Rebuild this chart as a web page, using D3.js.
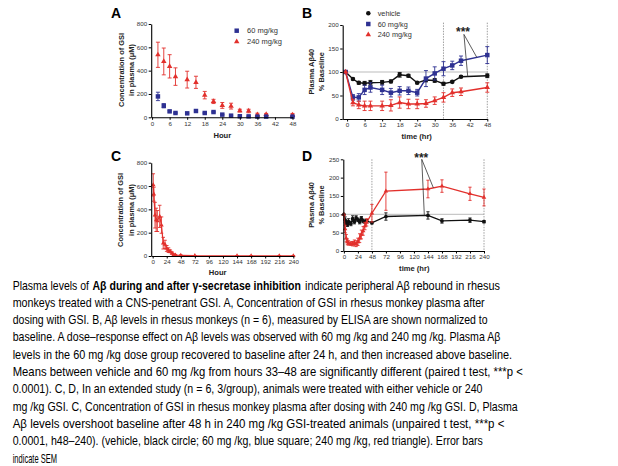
<!DOCTYPE html>
<html><head><meta charset="utf-8">
<script src="https://cdn.jsdelivr.net/npm/d3@7"></script>
<style>
body{margin:0;background:#fff}
svg{display:block}
text{font-family:'Liberation Sans',Arial,Helvetica,sans-serif}
</style>
</head><body>
<svg id="c" width="618" height="466"></svg>
<script>
// ---------- DATA ----------
// Panel A: GSI concentration (µM), 0-48 h
const hoursA = [2,4,6,8,12,15,18,21,24,27,30,33,36,39,48];
const a60    = [179,99,51,37,34,54,37,45,23,14,9,8,6,6,6];
const a60Err = [36,18,6,5,4,5,4,5,3,3,3,3,2,2,2];
const a240   = [536,479,437,349,323,300,190,136,102,96,57,54,23,25,20];
const a240Err= [108,115,100,75,72,52,32,18,25,25,12,15,12,8,13];
const ticksA_x = [0,6,12,18,24,30,36,42,48];
const ticksA_y = [0,200,400,600,800];

// Panel B: Plasma Aβ40 % baseline, 0-48 h
const hoursB  = [-0.5,2,4,6,8,12,15,18,21,24,27,30,33,36,39,48];
const bVeh    = [100,85,77,76,77,78,80,94,92,77,83,82,75,79,90,92];
const bVehErr = [0,2,3,4,5,4,3,5,3,2,4,4,3,2,2,4];
const b60     = [100,46,46,62,67,62,56,60,60,56,86,97,107,114,124,136];
const b60Err  = [0,6,8,10,10,10,9,9,8,7,17,14,15,9,10,18];
const b240    = [100,35,30,28,28,28,29,35,32,32,33,39,46,56,58,67];
const b240Err = [0,7,8,10,10,10,12,12,10,10,8,8,10,8,8,10];
const ticksB_x = [0,6,12,18,24,30,36,42,48];
const ticksB_y = [0,50,100,150,200];

// Panel C: GSI concentration (µM), 0-240 h, 240 mg/kg
const hoursC = [1,2,4,6,8,12,15,18,21,24,27,30,33,36,39,48,72,144,168,216,240];
const cVals  = [610,530,350,310,300,340,265,110,100,65,50,40,25,12,8,6,3,2,2,2,2];
const cErr   = [95,60,110,100,90,95,70,50,35,25,20,12,10,6,4,3,1,1,1,1,1];
const ticksCD_x = [0,24,48,72,96,120,144,168,192,216,240];
const ticksC_y = [0,200,400,600,800];

// Panel D: Plasma Aβ40 % baseline, 0-240 h
const hoursD  = [0,2,4,6,8,12,15,18,21,24,27,30,33,36,39,48,72,144,168,216,240];
const dVeh    = [100,85,78,72,80,75,88,80,90,85,80,88,82,80,82,77,94,97,82,84,80];
const dVehErr = [0,8,6,5,8,6,8,6,6,5,6,6,5,4,4,3,10,10,6,6,3];
const d240    = [100,60,35,25,22,20,20,22,20,25,35,45,55,68,78,103,163,169,177,156,146];
const d240Err = [0,10,10,8,6,5,6,8,8,10,12,12,12,10,10,24,52,24,17,18,23];
const ticksD_y = [0,50,100,150,200,250];

const legendA = ["60 mg/kg","240 mg/kg"];
const legendB = ["vehicle","60 mg/kg","240 mg/kg"];

// caption pieces: [text, bold, left x, right x]
const caption = [
  [["Plasma levels of",0,12.7,89],["Aβ during and after γ-secretase inhibition",1,92.5,301],["indicate peripheral Aβ rebound in rhesus",0,305,500]],
  [["monkeys treated with a CNS-penetrant GSI. A, Concentration of GSI in rhesus monkey plasma after",0,12.7,485]],
  [["dosing with GSI. B, Aβ levels in rhesus monkeys (n = 6), measured by ELISA are shown normalized to",0,12.7,488]],
  [["baseline. A dose–response effect on Aβ levels was observed with 60 mg /kg and 240 mg /kg. Plasma Aβ",0,12.7,501]],
  [["levels in the 60 mg /kg dose group recovered to baseline after 24 h, and then increased above baseline.",0,12.7,512]],
  [["Means between vehicle and 60 mg /kg from hours 33–48 are significantly different (paired t test, ***p <",0,12.7,523]],
  [["0.0001). C, D, In an extended study (n = 6, 3/group),  animals were treated with either vehicle or 240",0,12.7,483]],
  [["mg /kg GSI. C, Concentration of GSI in rhesus monkey plasma after dosing with 240 mg /kg GSI. D, Plasma",0,12.7,518]],
  [["Aβ levels overshoot baseline after 48 h in 240 mg /kg GSI-treated animals (unpaired t test, ***p <",0,12.7,505]],
  [["0.0001, h48–240).  (vehicle,  black circle; 60 mg /kg, blue square; 240 mg /kg, red triangle). Error bars",0,12.7,483]],
  [["indicate SEM",0,12.7,57]]
];

// ---------- DRAW ----------
const svg = d3.select('#c');
const BLUE = '#2e3192', RED = '#e2302c', BLACK = '#111';
const sym = {
  circle: d3.symbol().type(d3.symbolCircle).size(16),
  square: d3.symbol().type(d3.symbolSquare).size(20),
  tri: d3.symbol().type(d3.symbolTriangle).size(13),
  circleS: d3.symbol().type(d3.symbolCircle).size(11),
  triS: d3.symbol().type(d3.symbolTriangle).size(9)
};

function makePanel(o){
  const g = svg.append('g');
  const x = d3.scaleLinear().domain(o.xd).range(o.xr);
  const y = d3.scaleLinear().domain(o.yd).range(o.yr);
  return {g,x,y,o};
}
function axes(p, xt, yt, xlabel, ylabels, letter){
  const {g,x,y,o} = p;
  const xa = g.append('g').attr('transform',`translate(0,${o.yr[0]})`)
    .call(d3.axisBottom(x).tickValues(xt).tickSize(2.5).tickSizeOuter(0).tickPadding(1.5));
  const ya = g.append('g').attr('transform',`translate(${o.xr[0]},0)`)
    .call(d3.axisLeft(y).tickValues(yt).tickSize(2.5).tickSizeOuter(0).tickPadding(1.5));
  [xa,ya].forEach(a=>{
    a.select('.domain').attr('stroke','#000').attr('stroke-width',1.1);
    a.selectAll('.tick line').attr('stroke','#000').attr('stroke-width',1);
    a.selectAll('.tick text').attr('font-size',6.2).attr('fill','#333').attr('font-family',"'Liberation Sans',Arial,sans-serif");
  });
  g.append('text').attr('x',o.xlab[0]).attr('y',o.xlab[1]).attr('text-anchor','middle')
    .attr('dy','0.35em').attr('font-size',7.6).attr('font-weight','bold').attr('fill','#222').text(xlabel);
  ylabels.forEach((t,i)=>{
    g.append('text').attr('transform',`translate(${o.ylab[i]},${o.ylabY}) rotate(-90)`)
      .attr('text-anchor','middle').attr('dy','0.35em').attr('font-size',7.4).attr('font-weight','bold')
      .attr('fill','#222').text(t);
  });
  g.append('text').attr('x',o.letter[0]).attr('y',o.letter[1]).attr('font-size',14)
    .attr('font-weight','bold').attr('fill','#000').text(letter);
}
function series(p, xs, ys, es, color, shape, line, cap, lw){
  const {g,x,y} = p;
  const pts = xs.map((h,i)=>({h, v:ys[i], e:es[i]}));
  if(line){
    g.append('path').datum(pts).attr('fill','none').attr('stroke',color).attr('stroke-width',lw||1.4)
      .attr('d', d3.line().x(d=>x(d.h)).y(d=>y(d.v)));
  }
  const eb = g.append('g').attr('stroke',color).attr('stroke-width',0.9);
  pts.filter(d=>d.e>0).forEach(d=>{
    const cx = x(d.h);
    eb.append('line').attr('x1',cx).attr('x2',cx).attr('y1',y(Math.max(0,d.v-d.e))).attr('y2',y(d.v+d.e));
    eb.append('line').attr('x1',cx-cap).attr('x2',cx+cap).attr('y1',y(d.v+d.e)).attr('y2',y(d.v+d.e));
    if(d.v-d.e>0) eb.append('line').attr('x1',cx-cap).attr('x2',cx+cap).attr('y1',y(d.v-d.e)).attr('y2',y(d.v-d.e));
  });
  g.append('g').selectAll('path').data(pts).join('path')
    .attr('transform',d=>`translate(${x(d.h)},${y(d.v)})`).attr('d',sym[shape]).attr('fill',color);
}
function refLines(p, hVal, vHours, top){
  const {g,x,y,o} = p;
  g.append('line').attr('x1',o.xr[0]).attr('x2',o.xr[1]).attr('y1',y(hVal)).attr('y2',y(hVal))
    .attr('stroke','#aaa').attr('stroke-width',0.8);
  vHours.forEach(h=>{
    g.append('line').attr('x1',x(h)).attr('x2',x(h)).attr('y1',y(top)).attr('y2',o.yr[0])
      .attr('stroke','#888').attr('stroke-width',0.8).attr('stroke-dasharray','1.5,1.2');
  });
}
function stars(p, tx, ty, apex, targets){
  const {g,x,y} = p;
  g.append('text').attr('x',x(tx)).attr('y',y(ty)).attr('text-anchor','middle').attr('font-size',12)
    .attr('font-weight','bold').attr('fill','#222').text('***');
  targets.forEach(t=>{
    const interp = d3.scaleLinear().domain(t.xs).range(t.ys);
    g.append('line').attr('x1',x(apex[0])).attr('y1',y(apex[1]))
      .attr('x2',x(t.h)).attr('y2',y(interp(t.h))).attr('stroke','#333').attr('stroke-width',0.8);
  });
}

// Panel A
const pA = makePanel({xd:[-0.3,48], xr:[151.2,292.5], yd:[0,800], yr:[117.3,24],
  xlab:[222.3,135.7], ylab:[121.7,131.7], ylabY:70, letter:[111,18]});
series(pA, hoursA, a240, a240Err, RED, 'tri', false, 2);
series(pA, hoursA, a60, a60Err, BLUE, 'square', false, 2);
axes(pA, ticksA_x, ticksA_y, 'Hour', ['Concentration of GSI','in plasma (μM)'], 'A');
[['square',BLUE],['tri',RED]].forEach((s,i)=>{
  pA.g.append('path').attr('transform',`translate(236.7,${30.7+i*11})`).attr('d',sym[s[0]]).attr('fill',s[1]);
  pA.g.append('text').attr('x',247).attr('y',30.7+i*11).attr('dy','0.35em').attr('font-size',7.5)
    .attr('fill','#333').text(legendA[i]);
});

// Panel B
const pB = makePanel({xd:[-1.5,48], xr:[342.7,487.3], yd:[0,200], yr:[119,25],
  xlab:[416.7,136.7], ylab:[311.7,321.7], ylabY:71.7, letter:[302,18]});
refLines(pB, 100, [33,48], 205);
series(pB, hoursB, bVeh, bVehErr, BLACK, 'circle', true, 2);
series(pB, hoursB, b60, b60Err, BLUE, 'square', true, 2);
series(pB, hoursB, b240, b240Err, RED, 'tri', true, 2);
axes(pB, ticksB_x, ticksB_y, 'time (hr)', ['Plasma Aβ40','% Baseline'], 'B');
stars(pB, 39.7, 176, [40,180], [{h:44.4,xs:hoursB,ys:b60},{h:41.3,xs:hoursB,ys:bVeh}]);
[['circle',BLACK],['square',BLUE],['tri',RED]].forEach((s,i)=>{
  pB.g.append('path').attr('transform',`translate(368.3,${13.3+i*10.7})`).attr('d',sym[s[0]]).attr('fill',s[1]);
  pB.g.append('text').attr('x',377.7).attr('y',13.3+i*10.7).attr('dy','0.35em').attr('font-size',7.3)
    .attr('fill','#333').text(legendB[i]);
});

// Panel C
const pC = makePanel({xd:[-2.5,240], xr:[151.2,293.3], yd:[0,800], yr:[256,162.7],
  xlab:[217.7,272.8], ylab:[120.7,131.7], ylabY:210, letter:[111,161]});
series(pC, hoursC, cVals, cErr, RED, 'triS', true, 1.8, 1.2);
axes(pC, ticksCD_x, ticksC_y, 'Hour', ['Concentration of GSI','in plasma (μM)'], 'C');

// Panel D
const pD = makePanel({xd:[-1,240], xr:[343.3,484], yd:[0,250], yr:[251,159.3],
  xlab:[414.3,268.3], ylab:[311.7,321.7], ylabY:205, letter:[302,161]});
refLines(pD, 100, [48,240], 250);
series(pD, hoursD, dVeh, dVehErr, BLACK, 'circleS', true, 1.6, 1.3);
series(pD, hoursD, d240, d240Err, RED, 'triS', true, 1.6, 1.3);
axes(pD, ticksCD_x, ticksD_y, 'time (hr)', ['Plasma Aβ40','% Baseline'], 'D');
stars(pD, 132.5, 242, [133.4,250], [{h:153.3,xs:hoursD,ys:d240},{h:137.8,xs:hoursD,ys:dVeh}]);

// Caption: natural text, horizontally condensed by a transform to the measured width
const cap = svg.append('g');
caption.forEach((line,i)=>{
  const y0 = 289.5 + i*17.3;
  line.forEach(seg=>{
    const t = cap.append('text').attr('x',0).attr('y',0)
      .attr('font-size',12.6).attr('fill','#000')
      .attr('font-weight',seg[1]?'bold':'normal')
      .text(seg[0]);
    const w = t.node().getComputedTextLength();
    const sx = (seg[3]-seg[2]) / w;
    t.attr('transform',`translate(${seg[2]},${y0}) scale(${sx},1)`);
  });
});
</script>
</body></html>
